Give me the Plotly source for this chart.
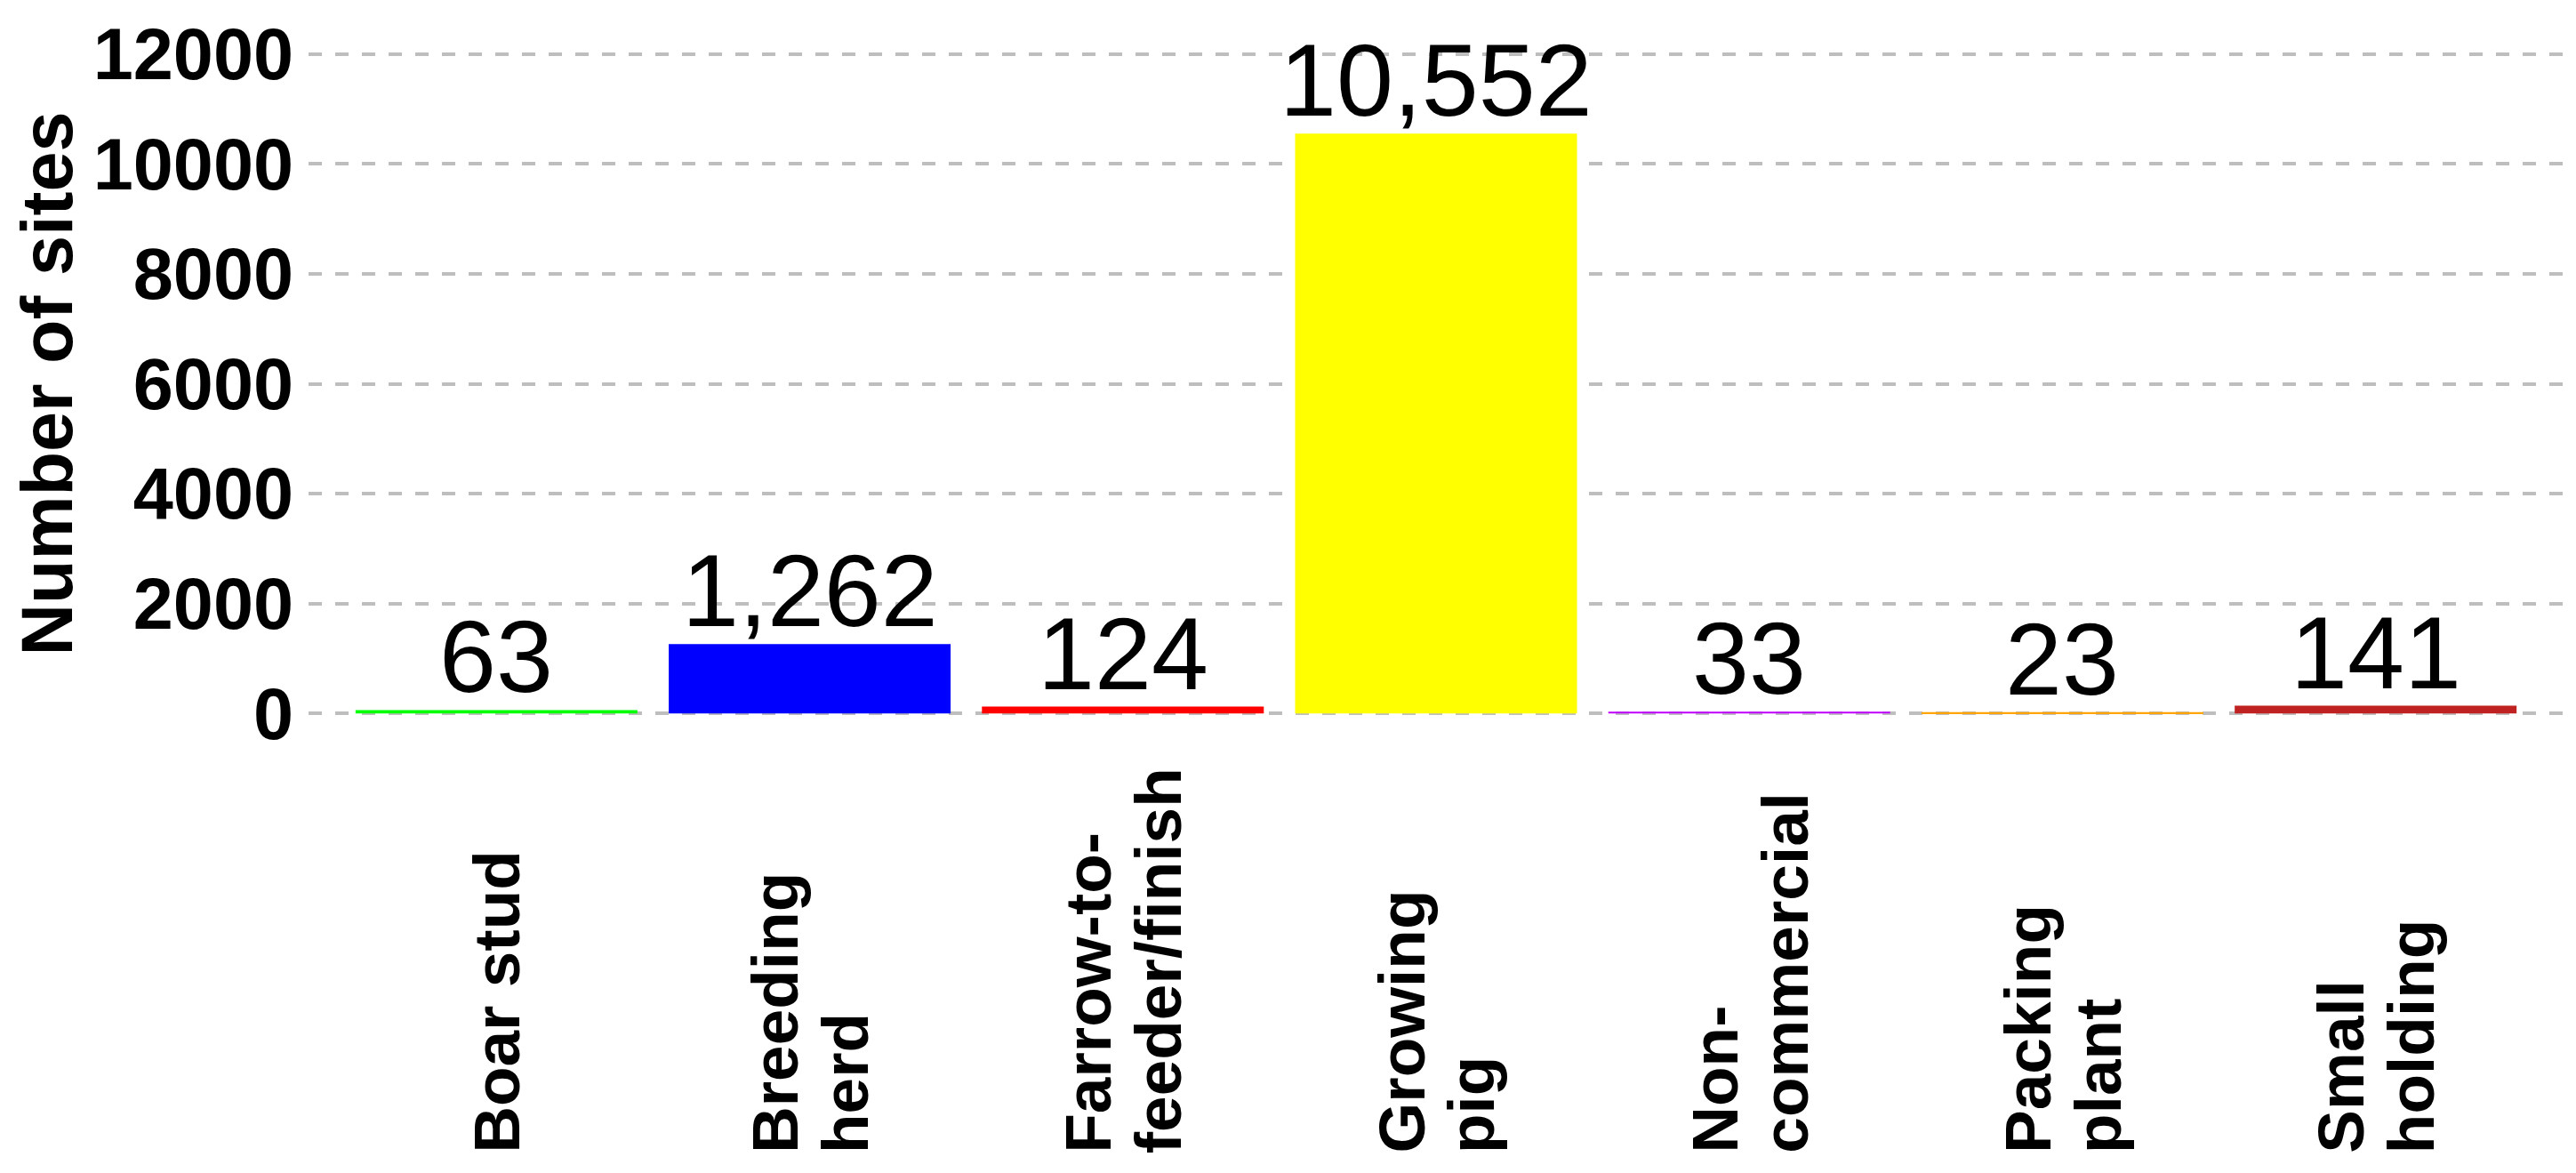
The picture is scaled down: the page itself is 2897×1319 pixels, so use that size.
import plotly.graph_objects as go

categories = ["Boar stud", "Breeding herd", "Farrow-to-feeder/finish", "Growing pig",
              "Non-commercial", "Packing plant", "Small holding"]
label_lines = [["Boar stud"], ["Breeding", "herd"], ["Farrow-to-", "feeder/finish"],
               ["Growing", "pig"], ["Non-", "commercial"], ["Packing", "plant"],
               ["Small", "holding"]]
values = [63, 1262, 124, 10552, 33, 23, 141]
colors = ["#00FF00", "#0000FF", "#FF0000", "#FFFF00", "#BF00FF", "#FFA500", "#C02222"]
y_ticks = [0, 2000, 4000, 6000, 8000, 10000, 12000]

FONT = "Liberation Sans, Arial, Helvetica, sans-serif"

fig = go.Figure()
fig.add_trace(go.Bar(
    x=categories, y=values,
    marker=dict(color=colors, line=dict(width=0)),
    showlegend=False, hoverinfo="x+y",
))

annotations = []
# value labels above bars
for cat, v in zip(categories, values):
    annotations.append(dict(
        x=cat, xref="x", y=v, yref="y",
        xanchor="center", yanchor="bottom", yshift=-6,
        text=f"{v:,}", showarrow=False,
        font=dict(family=FONT, size=115, color="black"),
    ))
# rotated category labels
for cat, lines in zip(categories, label_lines):
    n = len(lines)
    for j, line in enumerate(lines):
        shift = (j - (n - 1) / 2) * 79
        annotations.append(dict(
            x=cat, xref="x", y=0, yref="paper",
            xanchor="center", yanchor="bottom", yshift=-472, xshift=shift,
            text=line, textangle=-90, showarrow=False, align="left",
            font=dict(family=FONT, size=73, color="black", weight="bold"),
        ))

fig.update_layout(
    width=2889, height=1311,
    margin=dict(l=339, r=14, t=28, b=492, autoexpand=False),
    paper_bgcolor="white", plot_bgcolor="white",
    bargap=0.1,
    annotations=annotations,
    xaxis=dict(type="category", range=[-0.6, 6.6], showticklabels=False,
               showgrid=False, zeroline=False, showline=False, ticks="",
               automargin=False),
    yaxis=dict(range=[-400, 12400], tickvals=y_ticks, ticktext=[str(v) for v in y_ticks],
               tickfont=dict(family=FONT, size=81, color="black", weight="bold"),
               showgrid=True, gridcolor="#BEBEBE", gridwidth=4, griddash="15px,15px",
               zeroline=False, showline=False, ticks="", ticklabelstandoff=16,
               automargin=False,
               title=dict(text="Number of sites", standoff=42,
                          font=dict(family=FONT, size=81, color="black", weight="bold"))),
)

fig.write_html("out.html")
